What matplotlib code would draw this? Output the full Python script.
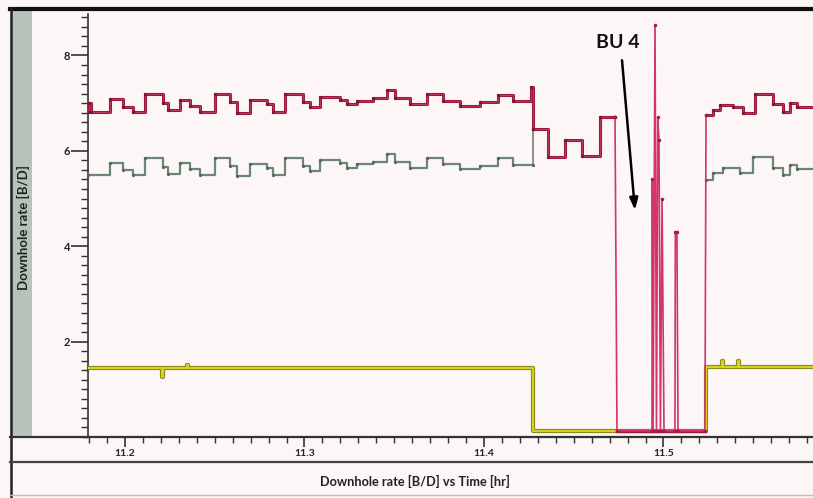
import matplotlib
matplotlib.use("Agg")
import matplotlib.pyplot as plt
from matplotlib.lines import Line2D
from matplotlib.patches import Rectangle
from matplotlib.ticker import MultipleLocator, FixedLocator

# ---------------- data ----------------
# upper (red) rate before the shut-in, step series: segment start times / values
red_pre_t = [11.1794, 11.1801, 11.1808, 11.1916, 11.1991, 11.2046, 11.2111, 11.2213,
             11.2241, 11.2306, 11.2362, 11.2418, 11.2501, 11.2585, 11.2622, 11.2696,
             11.2789, 11.2826, 11.2891, 11.2993, 11.3031, 11.3086, 11.3198, 11.3235,
             11.3291, 11.3383, 11.3457, 11.3504, 11.3588, 11.3681, 11.3773, 11.3866,
             11.3978, 11.4080, 11.4163, 11.4262, 11.4273]
red_pre_v = [6.82, 7.00, 6.82, 7.08, 6.92, 6.82, 7.20, 7.00,
             6.85, 7.07, 6.95, 6.82, 7.20, 7.02, 6.80, 7.06,
             6.98, 6.82, 7.20, 7.02, 6.92, 7.13, 7.07, 6.98,
             7.05, 7.10, 7.27, 7.10, 6.98, 7.20, 7.05, 6.95,
             7.02, 7.17, 7.05, 7.34, 6.46]
# red rate after the first drop (reduced rate period)
red_mid_t = [11.4273, 11.4357, 11.4451, 11.4546, 11.4646, 11.4730]
red_mid_v = [6.46, 5.87, 6.23, 5.90, 6.72, 6.72]
# red rate after the build-up
red_post_t = [11.5237, 11.5276, 11.5315, 11.5387, 11.5443, 11.5510, 11.5610,
              11.5666, 11.5705, 11.5744, 11.5840]
red_post_v = [6.75, 6.86, 6.96, 6.93, 6.80, 7.20, 6.98,
              6.82, 7.00, 6.92, 6.92]

# grey rate
grey_pre_t = [11.1794, 11.1916, 11.1991, 11.2046, 11.2111, 11.2213, 11.2241, 11.2306,
              11.2362, 11.2418, 11.2501, 11.2585, 11.2622, 11.2696, 11.2789, 11.2826,
              11.2891, 11.2993, 11.3031, 11.3086, 11.3198, 11.3235, 11.3291, 11.3383,
              11.3457, 11.3504, 11.3588, 11.3681, 11.3773, 11.3866, 11.3978, 11.4080,
              11.4163, 11.4273]
grey_pre_v = [5.49, 5.75, 5.60, 5.49, 5.84, 5.66, 5.52, 5.74,
              5.62, 5.49, 5.86, 5.68, 5.47, 5.73, 5.64, 5.49,
              5.86, 5.68, 5.58, 5.80, 5.74, 5.64, 5.72, 5.77,
              5.93, 5.77, 5.64, 5.86, 5.72, 5.62, 5.68, 5.84,
              5.70, 5.70]
grey_post_t = [11.5237, 11.5276, 11.5331, 11.5426, 11.5499, 11.5610, 11.5666,
               11.5705, 11.5744, 11.5840]
grey_post_v = [5.39, 5.53, 5.64, 5.53, 5.87, 5.64, 5.50, 5.70, 5.62, 5.62]

# yellow rate
yel_t = [11.1794, 11.2204, 11.2210, 11.2343, 11.2349, 11.4273, 11.4730,
         11.5237, 11.5327, 11.5333, 11.5416, 11.5422, 11.5840]
yel_v = [1.45, 1.26, 1.45, 1.52, 1.45, 0.13, 0.13,
         1.47, 1.60, 1.47, 1.60, 1.47, 1.47]

# build-up section (pink trace)
bu_t = [11.4730, 11.4741, 11.4936, 11.4938, 11.4942, 11.4953, 11.4961, 11.4968,
        11.4975, 11.4983, 11.4992, 11.5003, 11.5064, 11.5066, 11.5075, 11.5081,
        11.5231, 11.5237]
bu_v = [6.72, 0.13, 0.13, 5.40, 0.13, 8.64, 0.13, 6.70,
        6.23, 0.13, 5.00, 0.13, 0.13, 4.30, 4.30, 0.13,
        0.13, 6.75]
bu_base_t = [11.4741, 11.5231]
bu_base_v = [0.13, 0.13]

x_ticks = [11.2, 11.3, 11.4, 11.5]
x_tick_labels = ["11.2", "11.3", "11.4", "11.5"]
y_ticks = [2, 4, 6, 8]
y_tick_labels = ["2", "4", "6", "8"]

# ---------------- figure ----------------
W, H = 813, 498
BG = "#fcf6f6"
fig = plt.figure(figsize=(W / 100, H / 100), dpi=100, facecolor=BG)
FONT = ["Lato", "DejaVu Sans"]


def fx(px):
    return px / W


def fy(py):
    return 1 - py / H


ax = fig.add_axes([fx(88), fy(437), fx(813) - fx(88), fy(14) - fy(437)])
ax.set_facecolor(BG)
ax.set_xlim(11.1794, 11.5833)
ax.set_ylim(0, 8.87)

RED = "#9c1a3c"
PINK = "#d3336f"
GREY = "#6b8578"

ax.step(grey_pre_t, grey_pre_v, where="post", color=GREY, lw=1.6, zorder=3)
ax.step(grey_post_t, grey_post_v, where="post", color=GREY, lw=1.6, zorder=3)
ax.plot(grey_pre_t, grey_pre_v, ls="none", marker="o", ms=1.3, color="#506a5c", zorder=3)
ax.plot(grey_post_t, grey_post_v, ls="none", marker="o", ms=1.3, color="#506a5c", zorder=3)

ax.step(yel_t, yel_v, where="post", color="#8d8a18", lw=3.0, zorder=4)
ax.step(yel_t, yel_v, where="post", color="#d8d226", lw=1.4, zorder=4)

ax.plot(bu_base_t, bu_base_v, color=RED, lw=2.4, zorder=5)
ax.plot(bu_t, bu_v, color=PINK, lw=1.2, zorder=6)
ax.plot(bu_t, bu_v, ls="none", marker="o", ms=1.5, color="#a81a45", zorder=6)

for tt, vv in [(red_pre_t, red_pre_v), (red_mid_t, red_mid_v), (red_post_t, red_post_v)]:
    ax.step(tt, vv, where="post", color=RED, lw=2.2, zorder=5)
    ax.step(tt, vv, where="post", color="#c43a60", lw=0.6, zorder=5)
    ax.plot(tt, vv, ls="none", marker="o", ms=1.4, color="#7d1430", zorder=5)
ax.plot([red_pre_t[-1], red_pre_t[-1]], [red_pre_v[-2], grey_pre_v[-1]], color=GREY, lw=1.2, zorder=2)

# annotation
ax.annotate("", xy=(11.4841, 4.76), xytext=(11.4769, 7.90),
            arrowprops=dict(arrowstyle="-|>,head_length=0.7,head_width=0.25",
                            color="black", lw=1.8, shrinkA=0, shrinkB=0), zorder=8)
ax.text(11.4747, 8.28, "BU 4", ha="center", va="center", fontsize=14,
        fontweight="bold", family=FONT, color="#111111", zorder=8)

# axes styling
for s in ["top", "right"]:
    ax.spines[s].set_visible(False)
ax.spines["left"].set_color("#333333")
ax.spines["bottom"].set_color("#333333")
ax.spines["left"].set_linewidth(1.2)
ax.spines["bottom"].set_linewidth(1.6)

ax.xaxis.set_major_locator(FixedLocator(x_ticks))
ax.set_xticklabels(x_tick_labels)
ax.xaxis.set_minor_locator(MultipleLocator(0.01))
ax.yaxis.set_major_locator(FixedLocator(y_ticks))
ax.set_yticklabels(y_tick_labels)
ax.yaxis.set_minor_locator(MultipleLocator(0.2))
ax.tick_params(axis="y", which="major", length=12, width=1.2, color="#333333",
               labelsize=8, labelcolor="#222222", pad=1)
ax.tick_params(axis="y", which="minor", length=5, width=1.0, color="#333333")
ax.tick_params(axis="x", which="major", length=7, width=1.2, color="#333333",
               labelsize=7.5, labelcolor="#222222", pad=1.5)
ax.tick_params(axis="x", which="minor", length=4, width=1.0, color="#333333")
for lab in ax.get_xticklabels() + ax.get_yticklabels():
    lab.set_fontweight("bold")
    lab.set_family(FONT)

# frame / decorations
fig.patches.append(Rectangle((fx(11), fy(437)), fx(32) - fx(11), fy(10) - fy(437),
                             transform=fig.transFigure, facecolor="#b6c3ba",
                             edgecolor="none", zorder=0))
fig.add_artist(Line2D([fx(10), 1], [fy(9), fy(9)], color="#111111", lw=3))
fig.add_artist(Line2D([fx(10.5), fx(10.5)], [fy(8), 0], color="#222222", lw=1.8))
fig.add_artist(Line2D([fx(10), fx(88)], [fy(437), fy(437)], color="#333333", lw=1.6))
fig.add_artist(Line2D([fx(10), 1], [fy(462), fy(462)], color="#444444", lw=1.6))
fig.add_artist(Line2D([fx(10), 1], [fy(495), fy(495)], color="#bbbbbb", lw=1.0))

fig.text(fx(23), fy(228), "Downhole rate [B/D]", rotation=90, ha="center", va="center",
         fontsize=9.5, fontweight="bold", family=FONT, color="#222222")
fig.text(fx(415), fy(481), "Downhole rate [B/D] vs Time [hr]", ha="center", va="center",
         fontsize=9.2, fontweight="bold", family=FONT, color="#222222")

fig.savefig("out.png", dpi=100, facecolor=BG)
